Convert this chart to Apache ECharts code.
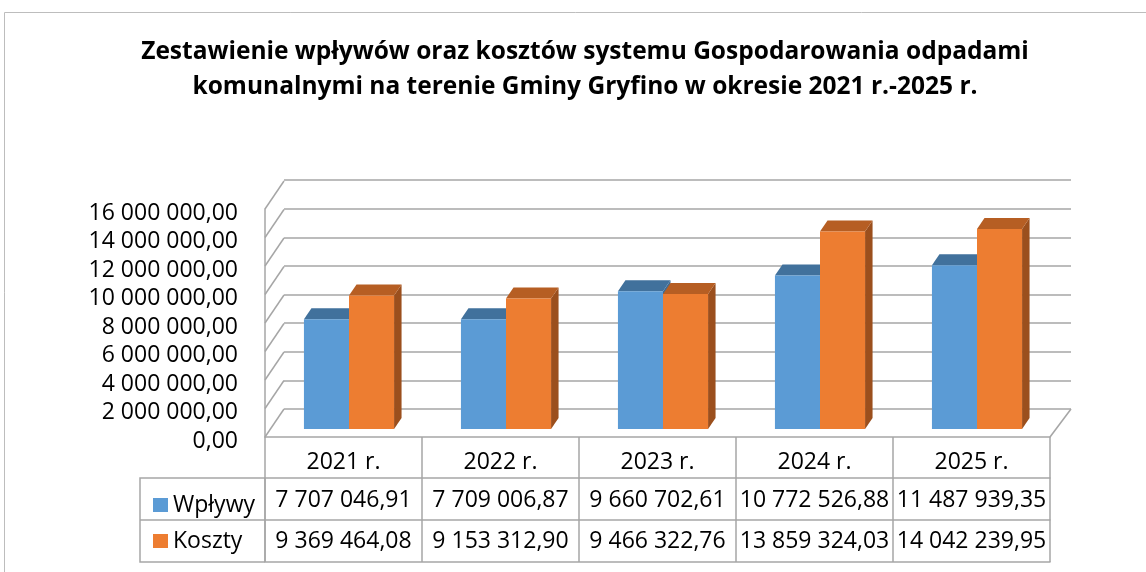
<!DOCTYPE html>
<html>
<head>
<meta charset="utf-8">
<script src="https://cdn.jsdelivr.net/npm/echarts@6/dist/echarts.min.js"></script>
<style>
html, body { margin: 0; padding: 0; background: #fff; }
#chart { width: 1146px; height: 572px; }
</style>
</head>
<body>
<div id="chart"></div>
<script>
// dane
const categories = ['2021 r.', '2022 r.', '2023 r.', '2024 r.', '2025 r.'];
const wplywy = [7707046.91, 7709006.87, 9660702.61, 10772526.88, 11487939.35];
const koszty = [9369464.08, 9153312.90, 9466322.76, 13859324.03, 14042239.95];
const yTicks = [0, 2000000, 4000000, 6000000, 8000000, 10000000, 12000000, 14000000, 16000000];
const titleText = 'Zestawienie wpływów oraz kosztów systemu Gospodarowania odpadami\nkomunalnymi na terenie Gminy Gryfino w okresie 2021 r.-2025 r.';

const FONT = "'Open Sans', 'Noto Sans', sans-serif";
const GRID_COLOR = '#a6a6a6';
const FRONT = [5.5, -8];   // przesuniecie przedniej sciany slupka
const DEPTH = [7.5, -11];  // glebokosc slupka
const WALL = [19, -28];    // glebokosc podlogi / sciany
const BAR_RATIO = 0.287;

// 7707046.91 -> "7 707 046,91"
function fmt(v) {
    const parts = v.toFixed(2).split('.');
    return parts[0].replace(/\B(?=(\d{3})+(?!\d))/g, ' ') + ',' + parts[1];
}

function bar3d(side, colors) {
    return function (params, api) {
        const i = api.value(0);
        const v = api.value(1);
        const base = api.coord([i, 0]);
        const top = api.coord([i, v]);
        const band = api.size([1, 0])[0];
        const w = band * BAR_RATIO;
        const x0 = base[0] + FRONT[0] - (side === 0 ? w : 0);
        const x1 = x0 + w;
        const yb = base[1] + FRONT[1];
        const yt = top[1] + FRONT[1];
        const dx = DEPTH[0], dy = DEPTH[1];
        return {
            type: 'group',
            children: [
                {
                    type: 'polygon',
                    shape: { points: [[x1, yt], [x1 + dx, yt + dy], [x1 + dx, yb + dy], [x1, yb]] },
                    style: { fill: colors.side }
                },
                {
                    type: 'polygon',
                    shape: { points: [[x0, yt], [x0 + dx, yt + dy], [x1 + dx, yt + dy], [x1, yt]] },
                    style: { fill: colors.top }
                },
                {
                    type: 'rect',
                    shape: { x: x0, y: yt, width: w, height: yb - yt },
                    style: { fill: colors.front }
                }
            ]
        };
    };
}

// skosne linie lewej sciany i prawa krawedz podlogi
function wallItem(params, api) {
    const v = api.value(1);
    const p = api.coord([0, v]);
    const band = api.size([1, 0])[0];
    const x = p[0] - band / 2;
    const children = [{
        type: 'line',
        shape: { x1: x, y1: p[1], x2: x + WALL[0], y2: p[1] + WALL[1] },
        style: { stroke: GRID_COLOR, lineWidth: 1.5 }
    }];
    if (v === 0) {
        const xr = x + band * categories.length;
        children.push({
            type: 'line',
            shape: { x1: xr, y1: p[1], x2: xr + WALL[0] + 2, y2: p[1] + WALL[1] },
            style: { stroke: GRID_COLOR, lineWidth: 1.5 }
        });
    }
    return { type: 'group', children: children };
}

const tableAxis = (offset, data, showLabel, showTick, margin) => ({
    type: 'category',
    gridIndex: 0,
    position: 'bottom',
    offset: offset,
    data: data,
    axisLine: { show: true, lineStyle: { color: GRID_COLOR, width: 1.5 } },
    axisTick: { show: showTick, interval: 0, length: 42, lineStyle: { color: GRID_COLOR, width: 1.5 } },
    axisLabel: { show: showLabel, interval: 0, margin: margin, color: '#000', fontSize: 23, fontFamily: FONT },
    splitLine: { show: false }
});

const option = {
    animation: false,
    legend: {
        orient: 'vertical',
        left: 148,
        top: 486,
        itemWidth: 15,
        itemHeight: 14,
        itemGap: 8,
        data: [{ name: 'Wpływy', icon: 'rect' }, { name: 'Koszty', icon: 'rect' }],
        textStyle: { fontFamily: FONT, fontSize: 23, color: '#000', lineHeight: 28 }
    },
    grid: [
        { left: 265, right: 96, top: 209, bottom: 135 },
        { left: 284, right: 75, top: 180, bottom: 163 }
    ],
    xAxis: [
        tableAxis(0, categories, true, true, 14),
        tableAxis(41, wplywy.map(fmt), true, true, 11),
        tableAxis(83, koszty.map(fmt), true, true, 10),
        tableAxis(125, categories, false, false, 8),
        { type: 'category', gridIndex: 1, data: categories, show: false }
    ],
    yAxis: [
        {
            type: 'value',
            gridIndex: 0,
            min: 0,
            max: 16000000,
            interval: 2000000,
            axisLine: { show: true, lineStyle: { color: GRID_COLOR, width: 1.5 } },
            axisTick: { show: false },
            splitLine: { show: false },
            axisLabel: {
                margin: 27,
                color: '#000',
                fontSize: 23,
                fontFamily: FONT,
                formatter: (v) => '{a|' + fmt(v) + '}',
                rich: {
                    a: { fontSize: 23, fontFamily: FONT, color: '#000', padding: [8, 0, 0, 0] }
                }
            }
        },
        {
            type: 'value',
            gridIndex: 1,
            min: 0,
            max: 16000000,
            interval: 2000000,
            axisLine: { show: false },
            axisTick: { show: false },
            axisLabel: { show: false },
            splitLine: { show: true, lineStyle: { color: GRID_COLOR, width: 1.5 } }
        }
    ],
    series: [
        {
            name: 'wall',
            type: 'custom',
            xAxisIndex: 0,
            yAxisIndex: 0,
            silent: true,
            z: 1,
            renderItem: wallItem,
            encode: { x: 0, y: 1 },
            data: yTicks.map((v) => [0, v])
        },
        {
            name: 'Wpływy',
            type: 'custom',
            xAxisIndex: 0,
            yAxisIndex: 0,
            z: 3,
            itemStyle: { color: '#5b9bd5' },
            renderItem: bar3d(0, { front: '#5b9bd5', top: '#41719c', side: '#3d6a93' }),
            encode: { x: 0, y: 1 },
            data: wplywy.map((v, i) => [i, v])
        },
        {
            name: 'Koszty',
            type: 'custom',
            xAxisIndex: 0,
            yAxisIndex: 0,
            z: 4,
            itemStyle: { color: '#ed7d31' },
            renderItem: bar3d(1, { front: '#ed7d31', top: '#b65e23', side: '#9b4f1d' }),
            encode: { x: 0, y: 1 },
            data: koszty.map((v, i) => [i, v])
        }
    ],
    graphic: [
        {
            type: 'rect',
            shape: { x: 4.5, y: 12.5, width: 1200, height: 620 },
            style: { fill: 'none', stroke: '#bdbdbd', lineWidth: 1 },
            silent: true
        },
        {
            type: 'text',
            x: 585,
            y: 35,
            style: {
                text: titleText,
                align: 'center',
                verticalAlign: 'top',
                fontFamily: FONT,
                fontSize: 24.5,
                fontWeight: 'bold',
                fill: '#000',
                lineHeight: 35
            },
            silent: true
        },
        {
            type: 'polyline',
            shape: { points: [[265, 478], [140, 478], [140, 562], [265, 562]] },
            style: { fill: 'none', stroke: GRID_COLOR, lineWidth: 1.5 },
            silent: true
        },
        {
            type: 'line',
            shape: { x1: 140, y1: 520, x2: 265, y2: 520 },
            style: { stroke: GRID_COLOR, lineWidth: 1.5 },
            silent: true
        },
        {
            type: 'line',
            shape: { x1: 265, y1: 478, x2: 265, y2: 562 },
            style: { stroke: GRID_COLOR, lineWidth: 1.5 },
            silent: true
        }
    ]
};

const myChart = echarts.init(document.getElementById('chart'));
myChart.setOption(option);
</script>
</body>
</html>
